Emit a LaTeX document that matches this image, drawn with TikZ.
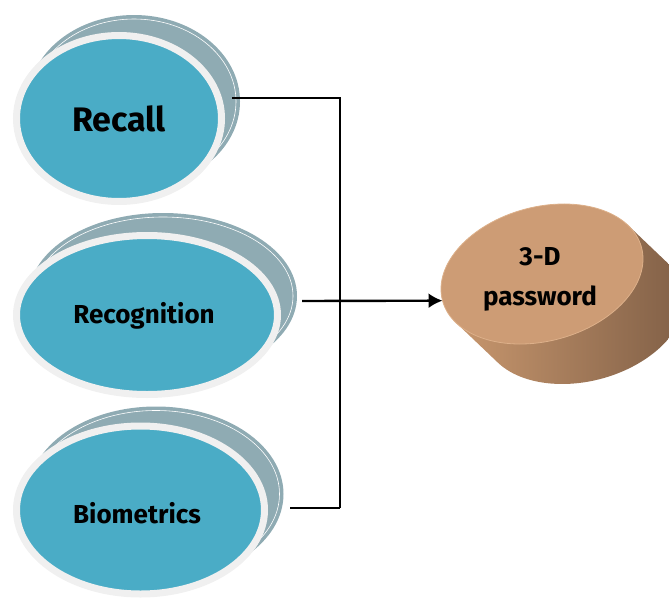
\documentclass[tikz,border=0pt]{standalone}
\usepackage{fontspec}
\newfontfamily\lblfont{Fira Sans}
\usetikzlibrary{shapes.geometric,arrows.meta}
\definecolor{bluefill}{HTML}{4AACC6}
\definecolor{ringgray}{HTML}{F0F0F0}
\definecolor{shadowgray}{HTML}{8FABB3}
\definecolor{facetan}{HTML}{CD9C75}
\definecolor{facerim}{HTML}{DDB08A}
\definecolor{sidelight}{HTML}{C8976E}
\definecolor{sidedark}{HTML}{7C5C44}
\begin{document}
\begin{tikzpicture}[x=1pt,y=1pt,
  ring/.style={ellipse, draw=ringgray, line width=7pt, fill=bluefill, inner sep=0pt, outer sep=0pt, text=black},
  shadowell/.style={fill=shadowgray},
  shadowline/.style={draw=white, line width=0.6pt},
  lbl/.style={font=\lblfont\bfseries\fontsize{26}{40}\selectfont, text=black},
  conn/.style={line width=2.4pt, draw=black}]
\useasboundingbox (0,0) rectangle (669,-597);
\clip (0,0) rectangle (669,-597);

% Recall
\fill[shadowell] (134,-101.5) ellipse [x radius=106, y radius=86.5];
\draw[shadowline] (134,-101.5) ellipse [x radius=102, y radius=82.5];
\node[ring, minimum width=205, minimum height=166, font=\lblfont\bfseries\fontsize{34}{40}\selectfont] (recall) at (119,-118.5) {Recall};

% Recognition
\fill[shadowell] (163,-296) ellipse [x radius=134, y radius=83];
\draw[shadowline] (163,-296) ellipse [x radius=130, y radius=79];
\node[ring, minimum width=261, minimum height=159] (recog) at (147,-315) {};
\node[lbl] (recogtext) at (144,-316) {Recognition};

% Biometrics
\fill[shadowell] (156,-494) ellipse [x radius=127.5, y radius=87.5];
\draw[shadowline] (156,-494) ellipse [x radius=123.5, y radius=83.5];
\node[ring, minimum width=248, minimum height=168] (bio) at (140.5,-510) {};
\node[lbl] (biotext) at (137,-513) {Biometrics};

% 3-D password cylinder
\begin{scope}[shift={(542,-274)}, rotate=15]
  \shade[left color=sidelight, right color=sidedark]
    (21.6:103 and 67) -- ++(30.2,-49.5)
    arc[start angle=21.6, end angle=-158.4, x radius=103, y radius=67]
    -- ++(-30.2,49.5) -- cycle;
\end{scope}
\node[ellipse, rotate=15, minimum width=206, minimum height=134, inner sep=0pt, outer sep=0pt,
      fill=facetan, draw=facerim, line width=0.8pt] (pwd) at (542,-274) {};
\node[lbl, align=center] (pwdtext) at (540,-279) {3-D\\password};

% connectors
\coordinate (recallout) at (232,-98);
\coordinate (recogout) at (302,-301);
\coordinate (bioout) at (290,-508);
\coordinate (jbot) at (340,-508);
\draw[conn] (recallout) -| (jbot);
\draw[conn] (bioout) -- (jbot);
\draw[conn, -{Latex[length=14pt,width=15pt]}] (recogout) -- (pwd.west);
\end{tikzpicture}
\end{document}
